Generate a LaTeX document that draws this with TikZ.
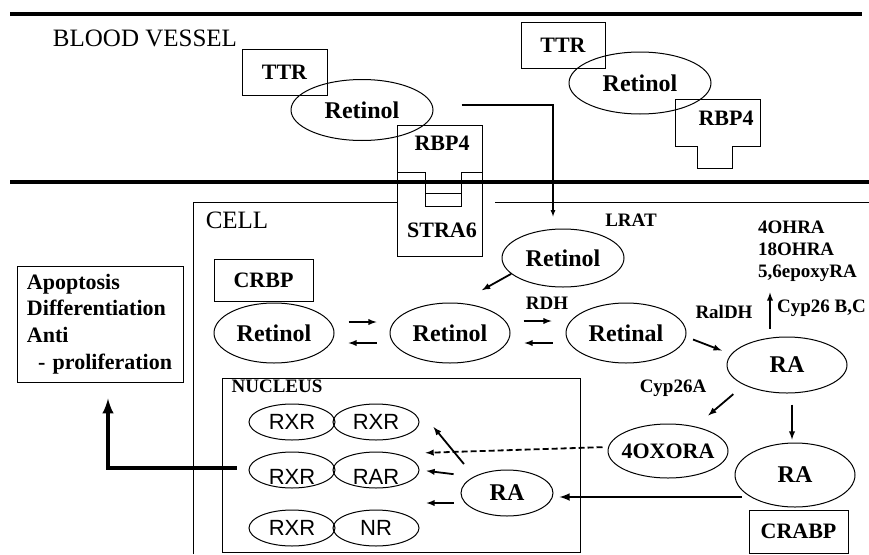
\documentclass[tikz,border=0pt]{standalone}
\usepackage{fontspec}
\setmainfont{Liberation Serif}
\newfontfamily\arialfont{Liberation Sans}
\usetikzlibrary{shapes}
\newcommand{\setfs}[2]{\fontsize{#1}{#2}\selectfont}
\newcommand{\lowered}[1]{\raisebox{-7pt}[\height][0pt]{#1}}

\begin{document}
\begin{tikzpicture}[x=1pt,y=-1pt,
  mol/.style={draw,ellipse,line width=1pt,inner sep=0pt,font=\bfseries\setfs{24}{28}},
  rec/.style={draw,ellipse,line width=1pt,inner sep=0pt,minimum width=86pt,minimum height=36pt,font=\arialfont\setfs{22}{26}},
  prot/.style={draw,rectangle,line width=1pt,inner sep=0pt,font=\bfseries\setfs{22}{26}},
  enz/.style={inner sep=0pt,font=\bfseries\setfs{19}{22}},
  arr/.style={->,>=latex,line width=1.8pt},
  membrane/.style={line width=4pt}]
\useasboundingbox (0,0) rectangle (869,554);
\draw[membrane] (10,14) -- (862,14);
\node[font=\setfs{25}{30}] (bloodVessel) at (145,38) {BLOOD VESSEL};
\node[prot,minimum width=85pt,minimum height=46pt] (ttrA) at (284.5,72) {TTR};
\node[mol,minimum width=142pt,minimum height=61pt] (retA) at (362,110) {Retinol};
\node[prot,minimum width=84pt,minimum height=46pt] (ttrB) at (563,45) {TTR};
\node[mol,minimum width=142pt,minimum height=62pt] (retB) at (640,83) {Retinol};
\draw[line width=1pt] (675,99) -- (760,99) -- (760,146) -- (732,146) -- (732,168) -- (697,168) -- (697,146) -- (675,146) -- cycle;
\node[prot,draw=none] (rbpB) at (726,118) {RBP4};
\draw[line width=1pt] (397,125) -- (482,125) -- (482,172) -- (461,172) -- (461,193) -- (425,193) -- (425,172) -- (397,172) -- cycle;
\draw[line width=1pt] (397,172) -- (425,172) -- (425,206) -- (461,206) -- (461,172) -- (482,172) -- (482,256) -- (397,256) -- cycle;
\node[prot,draw=none] (rbpA) at (442,143) {RBP4};
\node[prot,draw=none] (stra6) at (442,230) {STRA6};
\draw[membrane] (10,182) -- (869,182);
\draw[line width=1pt] (193,554) -- (193,202) -- (397,202);
\draw[line width=1pt] (495,202) -- (869,202);
\node[font=\setfs{25}{30}] (cell) at (237,220) {CELL};

\node[mol,minimum width=122pt,minimum height=58pt] (retL) at (563,258) {Retinol};
\node[enz] (lrat) at (631,220) {LRAT};
\node[prot,minimum width=99pt,minimum height=42pt] (crbp) at (263.5,280) {CRBP};
\node[mol,minimum width=120pt,minimum height=60pt] (retC) at (274,333) {Retinol};
\node[mol,minimum width=120pt,minimum height=60pt] (retM) at (450,333) {Retinol};
\node[mol,minimum width=120pt,minimum height=60pt] (retal) at (626,333) {Retinal};
\node[enz] (rdh) at (547,303) {RDH};
\node[enz] (raldh) at (724,312) {RalDH};
\node[mol,minimum width=120pt,minimum height=56pt] (raA) at (787,365) {RA};
\node[enz,align=left,anchor=west] (metab) at (758,251) {4OHRA\\18OHRA\\5,6epoxyRA};
\node[enz,anchor=west] (cypBC) at (777,308) {Cyp26 B,C};
\node[enz] (cypA) at (673,388) {Cyp26A};
\node[mol,minimum width=120pt,minimum height=54pt,inner xsep=-20pt,font=\bfseries\setfs{22}{26}] (oxo) at (668,451) {4OXORA};
\node[mol,minimum width=120pt,minimum height=64pt] (raB) at (795,475) {RA};
\node[prot,minimum width=99pt,minimum height=43pt] (crabp) at (798.5,531.5) {CRABP};

\node[draw,line width=1pt,minimum width=358pt,minimum height=174pt,inner sep=0pt] (nucleus) at (401,465) {};
\node[enz] (nucleusLabel) at (277,386) {NUCLEUS};
\node[rec] (rxrA) at (292,422) {RXR};
\node[rec] (rxrB) at (376,422) {RXR};
\node[rec] (rxrC) at (292,470) {\lowered{RXR}};
\node[rec] (rarC) at (376,470) {\lowered{RAR}};
\node[rec] (rxrD) at (292,528) {RXR};
\node[rec] (nrD) at (376,528) {NR};
\node[mol,minimum width=92pt,minimum height=46pt] (raN) at (507,493) {RA};

\node[draw,line width=1pt,align=left,inner xsep=10pt,inner ysep=0pt,text width=146pt,minimum height=116pt,font=\bfseries\setfs{22}{26.7}] (apop) at (100,324) {Apoptosis\\Differentiation\\Anti\\\hspace*{11pt}- proliferation};

\draw[arr,line width=1.2pt,shorten >=12pt] ([shift={(28pt,5pt)}]retA.east) -| ([xshift=-10pt]retL.north);
\draw[arr,shorten >=26pt] (retL.197) -- (retM.73);
\draw[arr,shorten <=14pt,shorten >=13pt] ([yshift=11pt]retC.east) -- ([yshift=11pt]retM.west);
\draw[arr,shorten <=13pt,shorten >=14pt] ([yshift=-10pt]retM.west) -- ([yshift=-10pt]retC.east);
\draw[arr,shorten <=13pt,shorten >=14pt] ([yshift=12pt]retM.east) -- ([yshift=12pt]retal.west);
\draw[arr,shorten <=13pt,shorten >=14pt] ([yshift=-10pt]retal.west) -- ([yshift=-10pt]retM.east);
\draw[arr,shorten <=7pt,shorten >=10pt] ([yshift=-4pt]retal.east) -- (raA.169);
\draw[arr,shorten <=8pt] ([xshift=-17pt]raA.north) -- ++(0,-44);
\draw[arr,shorten <=14pt,shorten >=17pt] (raA.205) -- (oxo.42);
\draw[arr,shorten <=11pt,shorten >=3pt] ([xshift=5pt]raA.south) -- ([xshift=-3pt]raB.north);
\draw[arr,line width=2.4pt,shorten >=6pt] ([shift={(7pt,-22pt)}]raB.west) -- ([yshift=-4pt]raN.east);
\draw[arr,dash pattern=on 6pt off 3pt,shorten <=5pt,shorten >=6pt] ([yshift=4pt]oxo.west) -- ([yshift=17pt]rarC.east);
\draw[arr,shorten <=16pt] (raN.north west) -- ([shift={(14pt,-5pt)}]rxrB.east);
\draw[arr,shorten <=7pt,shorten >=7pt] ([yshift=18pt]raN.west) -- (rarC.east);
\draw[arr,shorten <=7pt,shorten >=7pt] ([yshift=-10pt]raN.west) -- ([yshift=25pt]nrD.east);
\draw[arr,line width=4pt,shorten <=12pt,shorten >=16pt] ([yshift=2pt]rxrC.west) -| ([xshift=8pt]apop.south);
\end{tikzpicture}
\end{document}
